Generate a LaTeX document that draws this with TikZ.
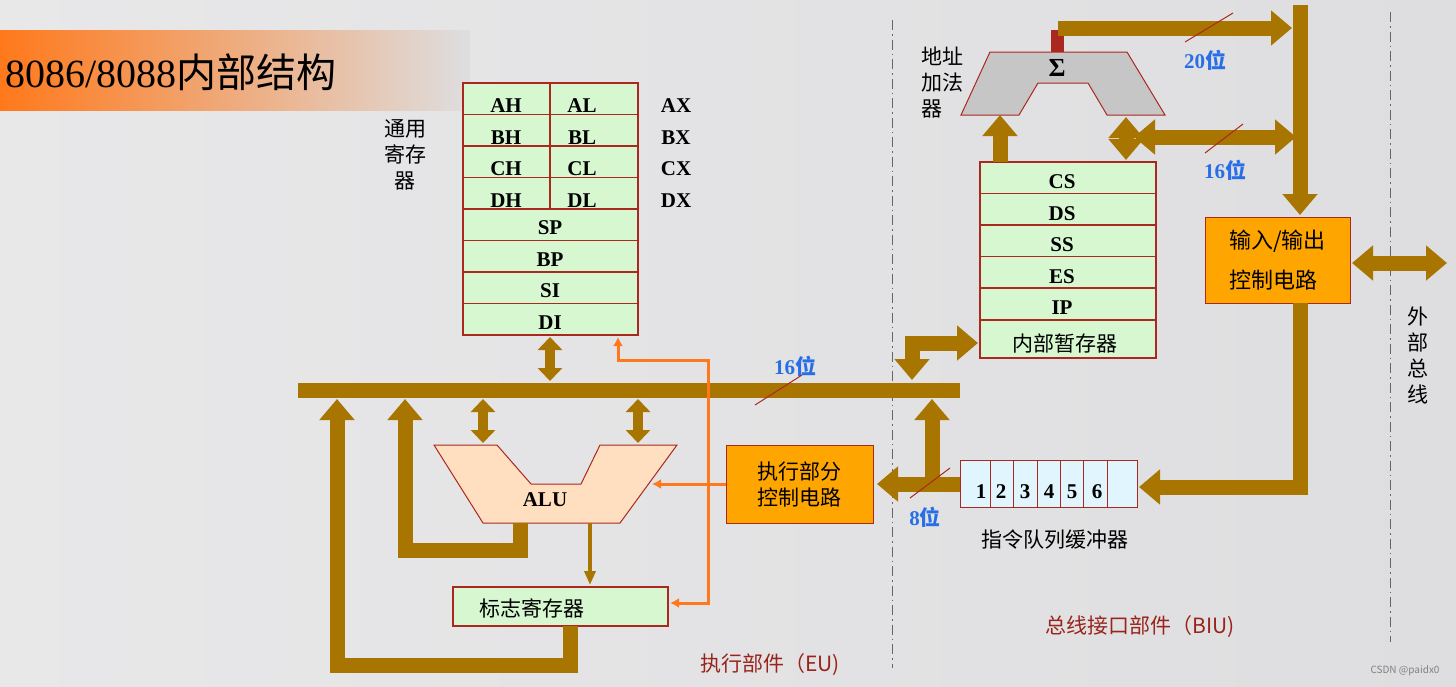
\documentclass[tikz,border=0pt]{standalone}
\usepackage{fontspec}
\setmainfont{Liberation Serif}
\newfontfamily\cjk{Noto Sans CJK SC}
\usetikzlibrary{arrows.meta}
\definecolor{bus}{RGB}{168,118,0}
\definecolor{reg}{RGB}{214,247,208}
\definecolor{regline}{RGB}{170,40,30}
\definecolor{ctl}{RGB}{255,165,0}
\definecolor{bg}{RGB}{222,222,224}
\definecolor{bl}{RGB}{40,110,230}
\definecolor{og}{RGB}{255,120,30}
\begin{document}
\begin{tikzpicture}[x=1pt,y=-1pt,
 bus/.style={draw=bus,line width=15pt},
 busa/.style={bus,-{Triangle[width=34pt,length=21pt]}},
 busd/.style={bus,{Triangle[width=34pt,length=21pt]}-{Triangle[width=34pt,length=21pt]}},
 smd/.style={draw=bus,line width=10pt,{Triangle[width=24pt,length=13pt]}-{Triangle[width=24pt,length=13pt]}},
 regbox/.style={draw=regline,fill=reg,line width=1.2pt},
 rl/.style={font=\fontsize{21}{21}\selectfont\bfseries},
 cj/.style={font=\fontsize{21}{26}\selectfont\cjk},
 num/.style={font=\fontsize{21}{21}\selectfont\bfseries,text=bl},
 slash/.style={draw=regline,line width=1pt},
 dd/.style={draw=black!60,line width=1pt,dash pattern=on 10pt off 4pt on 1.5pt off 4pt},
 ora/.style={draw=og,line width=3pt,-{Latex[length=9pt,width=10pt]}}]
\useasboundingbox (0,0) rectangle (1456,686);
\shade[left color=bg!70!white,right color=bg] (0,0) rectangle (1456,686);
% title
\shade[left color=og!90!orange,right color=bg] (0,30) rectangle (470,110);
\node[anchor=west,font=\fontsize{40}{40}\selectfont] (title) at (2,72) {8086/8088{\cjk 内部结构}};
% dash-dot separators
\draw[dd] (892,20) -- (892,668);
\draw[dd] (1390,12) -- (1390,642);
% general registers
\foreach \i/\l/\r/\x in {0/AH/AL/AX,1/BH/BL/BX,2/CH/CL/CX,3/DH/DL/DX}{
 \draw[regbox] (463,83+31.5*\i) rectangle (550,114.5+31.5*\i);
 \draw[regbox] (550,83+31.5*\i) rectangle (638,114.5+31.5*\i);
 \node[rl] at (506,106+31.5*\i) {\l};
 \node[rl] at (582,106+31.5*\i) {\r};
 \node[rl] at (676,106+31.5*\i) {\x};}
\foreach \i/\l in {4/SP,5/BP,6/SI,7/DI}{
 \draw[regbox] (463,83+31.5*\i) rectangle (638,114.5+31.5*\i);
 \node[rl] at (550,102+31.5*\i) {\l};}
\node[cj,align=center] (grl) at (405,155) {通用\\寄存\\器};
% main bus
\draw[bus] (298,390) -- (960,390);
\node[num] (n16a) at (795,366) {16{\cjk 位}};
\draw[slash] (755,405) -- (802,375);
\draw[smd] (550,337) -- (550,381);
% ALU
\draw[draw=regline,fill=orange!25,line width=1pt] (434,445) -- (497,445) -- (531,484) -- (581,484) -- (600,445) -- (677,445) -- (620,523) -- (483,523) -- cycle;
\node[rl] (alu) at (545,500) {ALU};
\draw[smd] (483,399) -- (483,443);
\draw[smd] (638,399) -- (638,443);
% flag register
\draw[regbox] (453,587) rectangle (668,626);
\node[cj,anchor=west] (flag) at (476,608) {标志寄存器};
\draw[draw=bus,line width=3.5pt,-{Triangle[width=11pt,length=14pt]}] (590,523) -- (590,585);
% feedback loops
\draw[busa] (520,523) -- (520,550) -- (405,550) -- (405,399);
\draw[busa] (570,626) -- (570,665) -- (337,665) -- (337,399);
% execution control
\node[draw=regline,fill=ctl,line width=1pt,minimum width=147pt,minimum height=78pt,cj,align=center] (exe) at (799.5,484) {执行部分\\控制电路};
\draw[ora] (exe.west) -- (652,484);
\draw[ora] (708,484) -- (708,603) -- (670,603);
\draw[ora] (708,484) -- (708,360) -- (618,360) -- (618,337);
% instruction queue
\draw[draw=regline,fill=cyan!12,line width=1pt] (960,460) rectangle (1137,507);
\foreach \x in {990,1013,1037,1060,1083,1107} \draw[regline,line width=1pt] (\x,460) -- (\x,507);
\foreach \n/\x in {1/981,2/1001,3/1025,4/1049,5/1072,6/1097} \node[rl] at (\x,492) {\n};
\node[cj] (qlab) at (1055,540) {指令队列缓冲器};
\draw[busa] (960,484) -- (877,484);
\draw[busa] (932,484) -- (932,399);
\node[num] (n8) at (925,517) {8{\cjk 位}};
\draw[slash] (910,498) -- (950,468);
% segment registers
\foreach \i/\l in {0/CS,1/DS,2/SS,3/ES,4/IP}{
 \draw[regbox] (980,162+31.5*\i) rectangle (1156,193.5+31.5*\i);
 \node[rl] at (1062,182+31.5*\i) {\l};}
\draw[regbox] (980,320) rectangle (1156,358);
\node[cj] (tmp) at (1065,343) {内部暂存器};
\draw[busd] (912,380) -- (912,343) -- (978,343);
% address adder
\draw[draw=regline,fill=gray!45,line width=1pt] (961,115) -- (990,52) -- (1127,52) -- (1165,115) -- (1107,115) -- (1088,83) -- (1038,83) -- (1019,115) -- cycle;
\node[font=\fontsize{26}{26}\selectfont\bfseries] (sig) at (1057,68) {Σ};
\fill[fill=regline] (1051,30) rectangle (1064,52);
\node[cj,align=left] (addl) at (942,83) {地址\\加法\\器};
\draw[busa] (1058,28) -- (1292,28);
\node[num] (n20) at (1205,60) {20{\cjk 位}};
\draw[slash] (1185,42) -- (1233,13);
\draw[busa] (1000,162) -- (1000,115);
\draw[busd] (1126,160) -- (1126,117);
\draw[busd] (1134,137) -- (1296,137);
\node[num] (n16b) at (1225,170) {16{\cjk 位}};
\draw[slash] (1205,153) -- (1243,124);
% right bus and IO
\draw[busa] (1300,5) -- (1300,215);
\node[draw=regline,fill=ctl,line width=1pt,minimum width=145pt,minimum height=86pt,align=left,font=\fontsize{22}{40}\selectfont\cjk] (io) at (1277.5,260) {输入/输出\\控制电路};
\draw[busa] (1300,303) -- (1300,487) -- (1139,487);
\draw[busd] (1352,263) -- (1447,263);
\node[cj,align=center] (ext) at (1418,355) {外\\部\\总\\线};
% captions
\node[cj,text=regline!90!black] (eu) at (770,665) {执行部件（EU)};
\node[cj,text=regline!90!black] (biu) at (1140,627) {总线接口部件（BIU)};
\node[font=\fontsize{10}{10}\selectfont\cjk,text=gray] (wm) at (1405,671) {CSDN @paidx0};
\end{tikzpicture}
\end{document}
